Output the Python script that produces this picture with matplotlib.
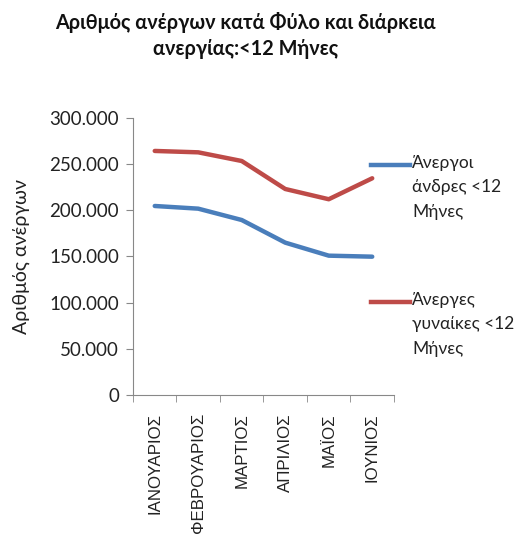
import numpy as np
import matplotlib
matplotlib.use("Agg")
import matplotlib.pyplot as plt
from matplotlib.lines import Line2D
from matplotlib.ticker import FuncFormatter

plt.rcParams['font.family'] = ['Lato', 'DejaVu Sans']

# data
months = ["ΙΑΝΟΥΑΡΙΟΣ", "ΦΕΒΡΟΥΑΡΙΟΣ", "ΜΑΡΤΙΟΣ", "ΑΠΡΙΛΙΟΣ", "ΜΑΪΟΣ", "ΙΟΥΝΙΟΣ"]
men = [204700, 201800, 189500, 165000, 150900, 149800]
women = [264300, 262800, 253400, 223100, 212000, 234700]
labels = ["Άνεργοι\nάνδρες <12\nΜήνες", "Άνεργες\nγυναίκες <12\nΜήνες"]
colors = ["#4a7ebb", "#be4b48"]

fig = plt.figure(figsize=(5.23, 5.38), dpi=100)
ax = fig.add_axes([0.2543, 0.2658, 0.499, 0.5149])

x = np.arange(len(months))
ax.plot(x, men, color=colors[0], lw=3.2, solid_capstyle="round")
ax.plot(x, women, color=colors[1], lw=3.2, solid_capstyle="round")

ax.set_xlim(-0.5, len(months) - 0.5)
ax.set_ylim(0, 300000)
ax.set_yticks(np.arange(0, 300001, 50000))
ax.yaxis.set_major_formatter(FuncFormatter(lambda v, p: "0" if v == 0 else f"{int(v):,}".replace(",", ".")))
ax.set_xticks(x)
ax.set_xticklabels(months, rotation=90, fontsize=12.2, family="Liberation Sans", color="#222222")
ax.set_xticks(np.arange(-0.5, len(months)), minor=True)
ax.tick_params(axis="x", which="major", length=0, pad=13)
ax.tick_params(axis="x", which="minor", length=5, color="#888888", direction="out")
ax.tick_params(axis="y", length=5, color="#888888", direction="out", labelsize=13.5, labelcolor="#222222", pad=5)

for s in ["top", "right"]:
    ax.spines[s].set_visible(False)
for s in ["left", "bottom"]:
    ax.spines[s].set_color("#888888")

ax.set_ylabel("Αριθμός ανέργων", fontsize=14, labelpad=14, color="#222222")

fig.text(0.47, 1 - 12 / 538, "Αριθμός ανέργων κατά Φύλο και διάρκεια\nανεργίας:<12 Μήνες",
         ha="center", va="top", fontsize=14.3, fontweight="bold",
         linespacing=1.4, color="#111111")

# legend drawn by hand to copy the spread-out layout
leg_y = [1 - 165 / 538, 1 - 302 / 538]
for yy, c, lab in zip(leg_y, colors, labels):
    fig.add_artist(Line2D([371 / 523, 410 / 523], [yy, yy], color=c, lw=3.2, transform=fig.transFigure))
    fig.text(412 / 523, yy + 0.019, lab, ha="left", va="top", fontsize=12.5,
             linespacing=1.65, color="#222222")

fig.savefig("out.png", dpi=100)
